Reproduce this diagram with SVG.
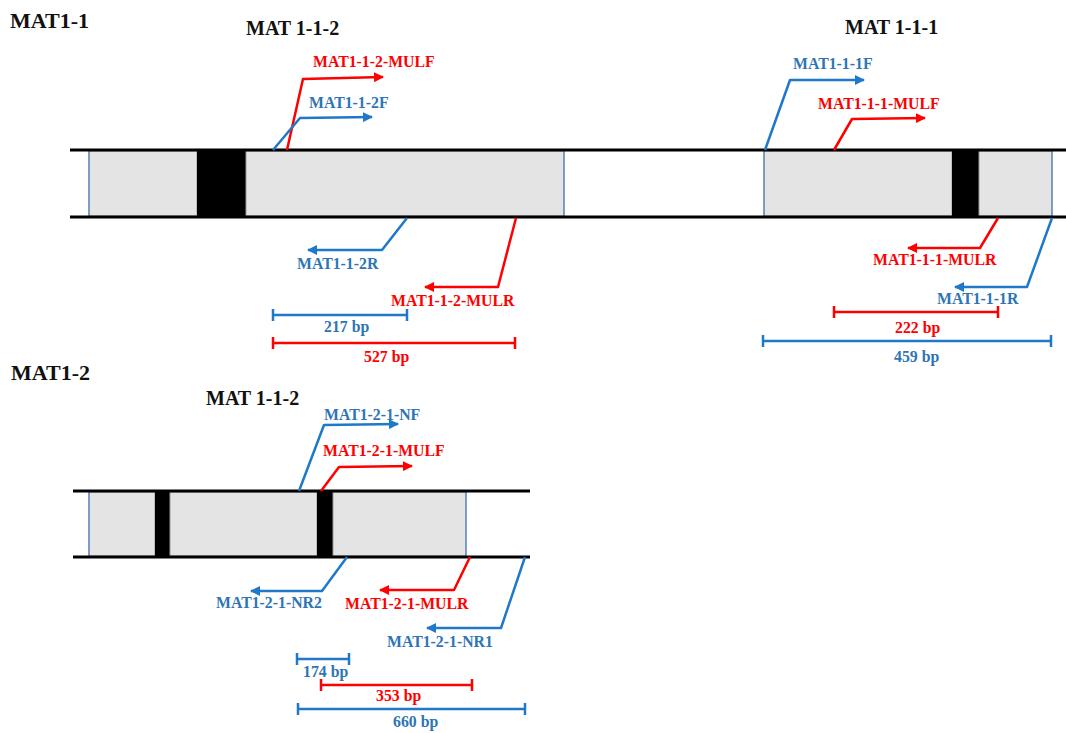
<svg xmlns="http://www.w3.org/2000/svg" width="1066" height="733" viewBox="0 0 1066 733">
  <style>
    text { font-family: "Liberation Serif", "Times New Roman", serif; font-weight: bold; }
    .h1 { font-size: 22px; fill: #111; }
    .h2 { font-size: 20px; fill: #111; }
    .lb { font-size: 15.8px; }
    .blue { fill: #2e75b6; }
    .red { fill: #ff0000; }
    .exon { fill: #e4e4e4; stroke: #9a9a9a; stroke-width: 1; }
    .intron { fill: #000; }
    .edge { stroke: #4f81bd; stroke-width: 1.2; }
    .rail { stroke: #000; stroke-width: 3; }
    .pb { fill: none; stroke: #1f78c8; stroke-width: 2.5; stroke-linejoin: round; }
    .pr { fill: none; stroke: #ff0000; stroke-width: 2.5; stroke-linejoin: round; }
  </style>
  <defs>
    <marker id="ab" viewBox="0 0 10 10" refX="9" refY="5" markerWidth="4" markerHeight="4" markerUnits="strokeWidth" orient="auto">
      <path d="M0,0 L10,5 L0,10 Z" fill="#1f78c8"/>
    </marker>
    <marker id="ar" viewBox="0 0 10 10" refX="9" refY="5" markerWidth="4" markerHeight="4" markerUnits="strokeWidth" orient="auto">
      <path d="M0,0 L10,5 L0,10 Z" fill="#ff0000"/>
    </marker>
  </defs>

  <!-- MAT1-1 locus -->
  <g id="locus-mat1-1">
    <text class="h1" x="10" y="28">MAT1-1</text>
    <text class="h2" x="246" y="35">MAT 1-1-2</text>
    <text class="h2" x="845" y="34">MAT 1-1-1</text>
    <rect class="exon" x="89" y="151" width="108" height="65"/>
    <rect class="intron" x="197" y="151" width="49" height="65"/>
    <rect class="exon" x="246" y="151" width="318" height="65"/>
    <rect class="exon" x="764" y="151" width="188" height="65"/>
    <rect class="intron" x="952" y="151" width="27" height="65"/>
    <rect class="exon" x="979" y="151" width="73" height="65"/>
    <line class="edge" x1="89" y1="151" x2="89" y2="216"/>
    <line class="edge" x1="564" y1="151" x2="564" y2="216"/>
    <line class="edge" x1="764" y1="151" x2="764" y2="216"/>
    <line class="edge" x1="1052" y1="151" x2="1052" y2="216"/>
    <line class="rail" x1="70" y1="150" x2="1066" y2="150"/>
    <line class="rail" x1="70" y1="217" x2="1066" y2="217"/>
  </g>

  <!-- MAT1-2 locus -->
  <g id="locus-mat1-2">
    <text class="h1" x="11" y="380">MAT1-2</text>
    <text class="h2" x="206" y="405">MAT 1-1-2</text>
    <rect class="exon" x="89" y="492" width="66" height="64"/>
    <rect class="intron" x="155" y="492" width="15" height="64"/>
    <rect class="exon" x="170" y="492" width="147" height="64"/>
    <rect class="intron" x="317" y="492" width="16" height="64"/>
    <rect class="exon" x="333" y="492" width="133" height="64"/>
    <line class="edge" x1="89" y1="492" x2="89" y2="556"/>
    <line class="edge" x1="466" y1="492" x2="466" y2="556"/>
    <line class="rail" x1="73" y1="491" x2="530" y2="491"/>
    <line class="rail" x1="73" y1="557" x2="530" y2="557"/>
  </g>

  <!-- primers and amplicon spans -->
  <g id="connectors">
    <!-- MAT1-1-2 primers -->
    <polyline class="pr" points="287,150 303,79 383,77" marker-end="url(#ar)"/>
    <polyline class="pb" points="273,150 300,118 372,117" marker-end="url(#ab)"/>
    <polyline class="pb" points="407,218 382,250 308,250" marker-end="url(#ab)"/>
    <polyline class="pr" points="516,218 498,287 425,287" marker-end="url(#ar)"/>
    <!-- MAT1-1-1 primers -->
    <polyline class="pb" points="765,150 790,80 864,80" marker-end="url(#ab)"/>
    <polyline class="pr" points="834,150 852,119 925,118" marker-end="url(#ar)"/>
    <polyline class="pr" points="998,218 980,248 908,248" marker-end="url(#ar)"/>
    <polyline class="pb" points="1052,218 1027,287 955,287" marker-end="url(#ab)"/>
    <!-- MAT1-2-1 primers -->
    <polyline class="pb" points="299,491 324,425 398,424" marker-end="url(#ab)"/>
    <polyline class="pr" points="321,491 339,467 412,466" marker-end="url(#ar)"/>
    <polyline class="pb" points="347,557 322,591 251,591" marker-end="url(#ab)"/>
    <polyline class="pr" points="470,557 454,590 380,590" marker-end="url(#ar)"/>
    <polyline class="pb" points="525,557 501,628 427,628" marker-end="url(#ab)"/>

    <!-- amplicon spans -->
    <path class="pb" d="M273,315 H407 M273,309 V321 M407,309 V321"/>
    <path class="pr" d="M273,343 H515 M273,337 V349 M515,337 V349"/>
    <path class="pr" d="M834,312 H998 M834,306 V318 M998,306 V318"/>
    <path class="pb" d="M763,341 H1051 M763,335 V347 M1051,335 V347"/>
    <path class="pb" d="M297,659 H349 M297,653 V665 M349,653 V665"/>
    <path class="pr" d="M321,685 H472 M321,679 V691 M472,679 V691"/>
    <path class="pb" d="M298,709 H525 M298,703 V715 M525,703 V715"/>
  </g>

  <!-- labels -->
  <g id="labels">
    <text class="lb red" x="313" y="67">MAT1-1-2-MULF</text>
    <text class="lb blue" x="309" y="108">MAT1-1-2F</text>
    <text class="lb blue" x="297" y="269">MAT1-1-2R</text>
    <text class="lb red" x="391" y="306">MAT1-1-2-MULR</text>
    <text class="lb blue" x="793" y="69">MAT1-1-1F</text>
    <text class="lb red" x="818" y="109">MAT1-1-1-MULF</text>
    <text class="lb red" x="873" y="265">MAT1-1-1-MULR</text>
    <text class="lb blue" x="937" y="304">MAT1-1-1R</text>
    <text class="lb blue" x="324" y="420">MAT1-2-1-NF</text>
    <text class="lb red" x="323" y="456">MAT1-2-1-MULF</text>
    <text class="lb blue" x="216" y="608">MAT1-2-1-NR2</text>
    <text class="lb red" x="345" y="609">MAT1-2-1-MULR</text>
    <text class="lb blue" x="387" y="647">MAT1-2-1-NR1</text>

    <text class="lb blue" x="324" y="332">217 bp</text>
    <text class="lb red" x="364" y="362">527 bp</text>
    <text class="lb red" x="895" y="333">222 bp</text>
    <text class="lb blue" x="894" y="362">459 bp</text>
    <text class="lb blue" x="303" y="677">174 bp</text>
    <text class="lb red" x="376" y="701">353 bp</text>
    <text class="lb blue" x="393" y="727">660 bp</text>
  </g>
</svg>
